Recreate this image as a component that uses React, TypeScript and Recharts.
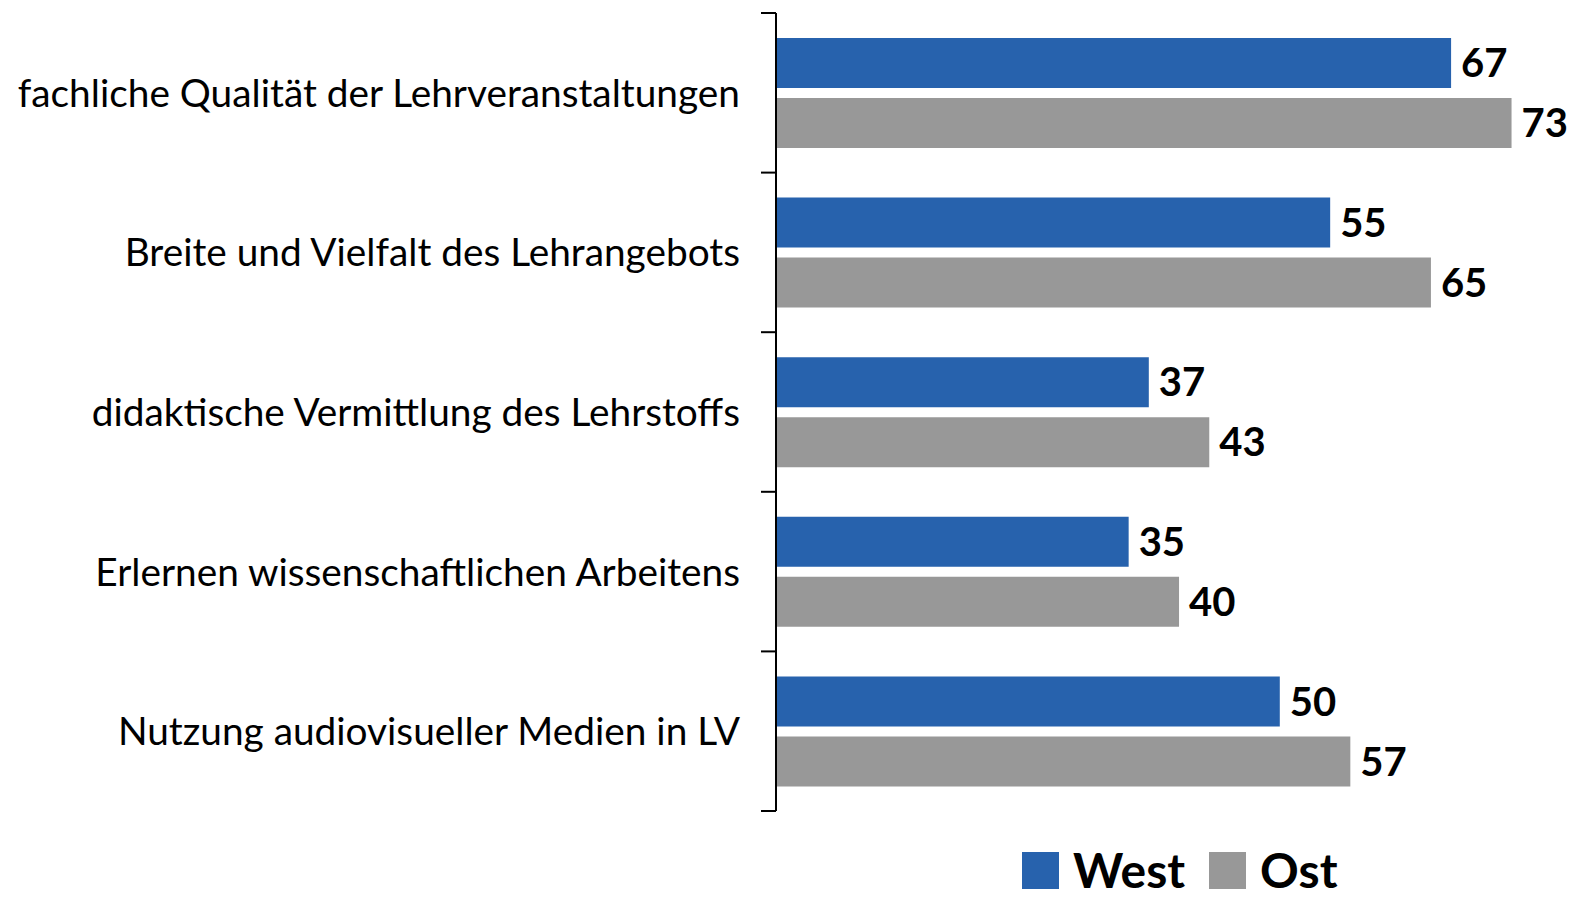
import React from 'react';
import { BarChart, Bar, XAxis, YAxis, Legend, LabelList } from 'recharts';

const categories = [
  'fachliche Qualität der Lehrveranstaltungen',
  'Breite und Vielfalt des Lehrangebots',
  'didaktische Vermittlung des Lehrstoffs',
  'Erlernen wissenschaftlichen Arbeitens',
  'Nutzung audiovisueller Medien in LV',
];
const westValues = [67, 55, 37, 35, 50];
const ostValues = [73, 65, 43, 40, 57];
const seriesNames = ['West', 'Ost'];
const seriesColors = ['#2762AD', '#989898'];

const data = categories.map((name, i) => ({ name, west: westValues[i], ost: ostValues[i] }));

const FONT = 'Lato, "Open Sans", sans-serif';
const AXIS_X = 776;

// label at band centre, tick marks at band boundaries
const CategoryTick = (props: any) => {
  const { x, y, payload, index } = props;
  const half = payload && payload.offset ? payload.offset : 79.8;
  const last = index === categories.length - 1;
  return (
    <g>
      <line x1={AXIS_X - 15} x2={AXIS_X} y1={y - half} y2={y - half} stroke="#000" strokeWidth={2} />
      {last && <line x1={AXIS_X - 15} x2={AXIS_X} y1={y + half} y2={y + half} stroke="#000" strokeWidth={2} />}
      <text x={x} y={y} dy="0.36em" textAnchor="end" fontFamily={FONT} fontSize={38.8} fill="#000">
        {payload.value}
      </text>
    </g>
  );
};

const renderLegend = () => (
  <div style={{ display: 'flex', alignItems: 'center', fontFamily: FONT }}>
    {seriesNames.map((n, i) => (
      <div key={n} style={{ display: 'flex', alignItems: 'center', marginRight: 24 }}>
        <span style={{ width: 37, height: 37, background: seriesColors[i], display: 'inline-block', marginRight: 14 }} />
        <span style={{ fontSize: 48, fontWeight: 700, lineHeight: '44px', color: '#000' }}>{n}</span>
      </div>
    ))}
  </div>
);

export default function App() {
  return (
    <div style={{ position: 'absolute', left: 0, top: 0, width: 1575, height: 897, overflow: 'hidden', background: '#fff' }}>
      <BarChart
        width={1575}
        height={897}
        data={data}
        layout="vertical"
        barGap={10}
        margin={{ top: 13, right: 3, bottom: 86, left: 0 }}
      >
        <XAxis type="number" domain={[0, 79]} hide />
        <YAxis
          type="category"
          dataKey="name"
          width={AXIS_X}
          axisLine={{ stroke: '#000', strokeWidth: 2 }}
          tickLine={false}
          tickSize={0}
          tickMargin={36}
          tick={<CategoryTick />}
          interval={0}
        />
        <Legend
          verticalAlign="middle"
          align="center"
          content={renderLegend}
          wrapperStyle={{ left: 1022, top: 848, width: 'auto' }}
        />
        <Bar dataKey="west" name="West" fill={seriesColors[0]} barSize={50} isAnimationActive={false}>
          <LabelList dataKey="west" position="right" offset={10} fontFamily={FONT} fontSize={40} fontWeight={700} fill="#000" />
        </Bar>
        <Bar dataKey="ost" name="Ost" fill={seriesColors[1]} barSize={50} isAnimationActive={false}>
          <LabelList dataKey="ost" position="right" offset={10} fontFamily={FONT} fontSize={40} fontWeight={700} fill="#000" />
        </Bar>
      </BarChart>
    </div>
  );
}
